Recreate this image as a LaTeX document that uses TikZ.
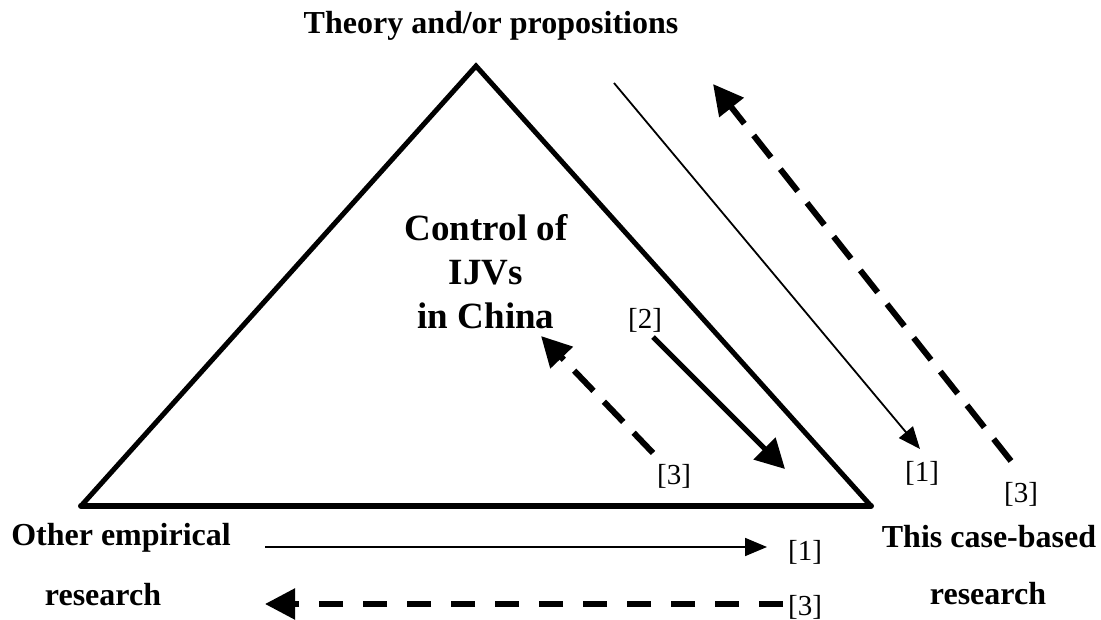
\documentclass[tikz,border=0pt]{standalone}
\usepackage{fontspec}
\setmainfont{Liberation Serif}
\usetikzlibrary{arrows.meta}

\begin{document}
\begin{tikzpicture}[
  x=1pt, y=-1pt,
  every node/.style={align=center, inner sep=0pt},
  heading/.style={font=\fontsize{32}{38}\selectfont\bfseries},
  topic/.style={font=\fontsize{37}{44}\selectfont\bfseries},
  tag/.style={font=\fontsize{29}{32}\selectfont},
  side/.style={line width=5pt, line join=miter},
  thinflow/.style={-{Triangle[length=22pt,width=18pt]}, line width=1.8pt},
  boldflow/.style={-{Triangle[length=29pt,width=30pt]}, line width=5pt},
  backflow/.style={-{Triangle[length=30pt,width=30pt]}, line width=6pt,
                   dash pattern=on 28pt off 15pt},
]
\useasboundingbox (0,0) rectangle (1101,620);

% ---------- triangle ----------
\coordinate (apex) at (476,66);
\coordinate (left) at (81,506);
\coordinate (right) at (871,506);
\draw[side] (left) -- (apex) -- (right);
\draw[side, line width=6pt, line cap=round] (left) -- (right);

% ---------- texts ----------
\node[heading] (theory) at (491,26) {Theory and/or propositions};
\node[topic] (topic) at (486,272) {Control of\\IJVs\\in China};
\node[heading] (other) at (121,538) {Other empirical};
\node[heading] (otherres) at (103,595) {research};
\node[heading] (case) at (989,537) {This case-based};
\node[heading] (caseres) at (988,594) {research};

% ---------- step labels ----------
\node[tag] (lab1diag) at (922,473) {[1]};
\node[tag] (lab3out) at (1021,494) {[3]};
\node[tag] (lab2) at (645,320) {[2]};
\node[tag] (lab3in) at (674,476) {[3]};
\node[tag] (lab1bot) at (805,552) {[1]};
\node[tag] (lab3bot) at (805,607) {[3]};

% ---------- arrow ends ----------
\coordinate (d1from) at (614,83);
\coordinate (d1to) at (920,449);
\coordinate (d3from) at (1011,461);
\coordinate (d3to) at (713,84);
\coordinate (s2from) at (653,337);
\coordinate (s2to) at (785,469);
\coordinate (i3from) at (653,453);
\coordinate (i3to) at (541,336);
\coordinate (b1from) at (265,547);
\coordinate (b1to) at (767,547);
\coordinate (b3from) at (783,604);
\coordinate (b3to) at (265,604);

% ---------- arrows ----------
\draw[thinflow] (d1from) -- (d1to);
\draw[backflow] (d3from) -- (d3to);
\draw[boldflow] (s2from) -- (s2to);
\draw[backflow] (i3from) -- (i3to);
\draw[thinflow] (b1from) -- (b1to);
\draw[backflow, line width=5.5pt, dash pattern=on 24pt off 20pt] (b3from) -- (b3to);

\end{tikzpicture}
\end{document}
